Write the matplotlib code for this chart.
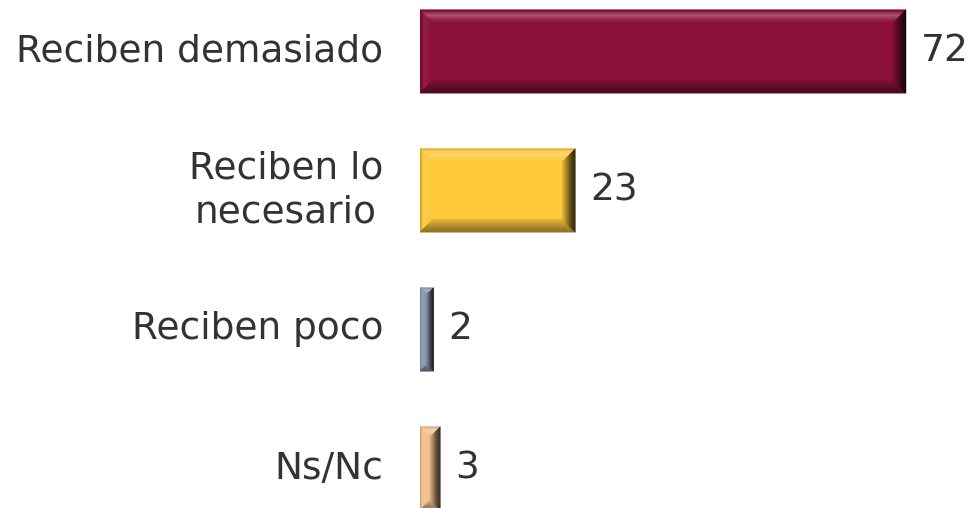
import matplotlib.pyplot as plt
import numpy as np
from matplotlib.colors import to_rgb
from matplotlib.patches import Polygon

categories = ["Reciben demasiado", "Reciben lo\nnecesario", "Reciben poco", "Ns/Nc"]
values = [72, 23, 2, 3]
colors = ["#8B1038", "#FFC93A", "#8A96AC", "#F2C08E"]

FIG_W, FIG_H = 967, 508
AX_LEFT, AX_RIGHT = 420, 960
XMAX = 80
Y_TOP, Y_BOTTOM = -0.37, 3.284
BAR_H = 0.6
TEXT = "#333333"
WHITE, BLACK = np.array([1.0, 1.0, 1.0]), np.array([0.0, 0.0, 0.0])


def mix(c, other, t):
    c = np.array(to_rgb(c))
    if t < 0:
        return tuple(c * (1 + t) + BLACK * (-t))
    return tuple(c * (1 - t) + other * t)


def shade(c, s):
    # s > 0 lightens, s < 0 darkens
    c = np.array(to_rgb(c))
    if s >= 0:
        return tuple(c * (1 - s) + WHITE * s)
    return tuple(c * (1 + s))


def face(ax, outer, inner, color, profile, n=12):
    (a, b), (ai, bi) = outer, inner
    a, b, ai, bi = map(np.array, (a, b, ai, bi))
    for k in range(n):
        t0, t1 = k / n, (k + 1) / n
        tm = (t0 + t1) / 2
        s = np.interp(tm, profile[0], profile[1])
        pts = [a + (ai - a) * t0, b + (bi - b) * t0, b + (bi - b) * t1, a + (ai - a) * t1]
        ax.add_patch(Polygon(pts, closed=True, facecolor=shade(color, s),
                             edgecolor=shade(color, s), linewidth=0.3))


def bevel_bar(ax, y, w, color, px_x, px_y, bev_px=13):
    x0, x1 = 0, w
    y0, y1 = y - BAR_H / 2, y + BAR_H / 2  # y1 is the lower edge on screen
    b = min(bev_px, w * px_x / 2.0)
    bx, by = b / px_x, b / px_y
    ix0, ix1 = x0 + bx, x1 - bx
    iy0, iy1 = y0 + by, y1 - by
    ax.add_patch(Polygon([(x0, y0), (x1, y0), (x1, y1), (x0, y1)], closed=True,
                         facecolor=color, edgecolor="none"))
    if ix1 > ix0 and iy1 > iy0:
        ax.add_patch(Polygon([(ix0, iy0), (ix1, iy0), (ix1, iy1), (ix0, iy1)], closed=True,
                             facecolor=color, edgecolor="none"))
    # top: dark rim, bright stripe, back to face
    face(ax, ((x0, y0), (x1, y0)), ((ix0, iy0), (ix1, iy0)), color,
         ([0, 0.15, 0.45, 0.6, 1.0], [-0.3, 0.05, 0.3, 0.2, 0.0]))
    # left
    face(ax, ((x0, y0), (x0, y1)), ((ix0, iy0), (ix0, iy1)), color,
         ([0, 0.3, 1.0], [-0.25, 0.08, 0.0]))
    # bottom
    face(ax, ((x0, y1), (x1, y1)), ((ix0, iy1), (ix1, iy1)), color,
         ([0, 0.4, 1.0], [-0.45, -0.35, -0.1]))
    # right
    face(ax, ((x1, y0), (x1, y1)), ((ix1, iy0), (ix1, iy1)), color,
         ([0, 0.5, 1.0], [-0.85, -0.55, -0.1]))


def main() -> None:
    fig = plt.figure(figsize=(FIG_W / 100, FIG_H / 100), dpi=100)
    ax = fig.add_axes([AX_LEFT / FIG_W, 0, (AX_RIGHT - AX_LEFT) / FIG_W, 1])
    ax.set_xlim(0, XMAX)
    ax.set_ylim(Y_BOTTOM, Y_TOP)
    ax.axis("off")

    px_x = (AX_RIGHT - AX_LEFT) / XMAX
    px_y = FIG_H / (Y_BOTTOM - Y_TOP)

    ypos = np.arange(len(values))
    for y, v, c, lab in zip(ypos, values, colors, categories):
        bevel_bar(ax, y, v, c, px_x, px_y)
        ax.annotate(str(v), xy=(v, y), xytext=(15, 0), textcoords="offset pixels",
                    ha="left", va="center", fontsize=27, color=TEXT)
        ax.annotate(lab, xy=(0, y), xytext=(-37, 0), textcoords="offset pixels",
                    ha="right", va="center", multialignment="center",
                    fontsize=27, color=TEXT, linespacing=1.3)

    fig.savefig("out.png", dpi=100, facecolor="white")


if __name__ == "__main__":
    main()
